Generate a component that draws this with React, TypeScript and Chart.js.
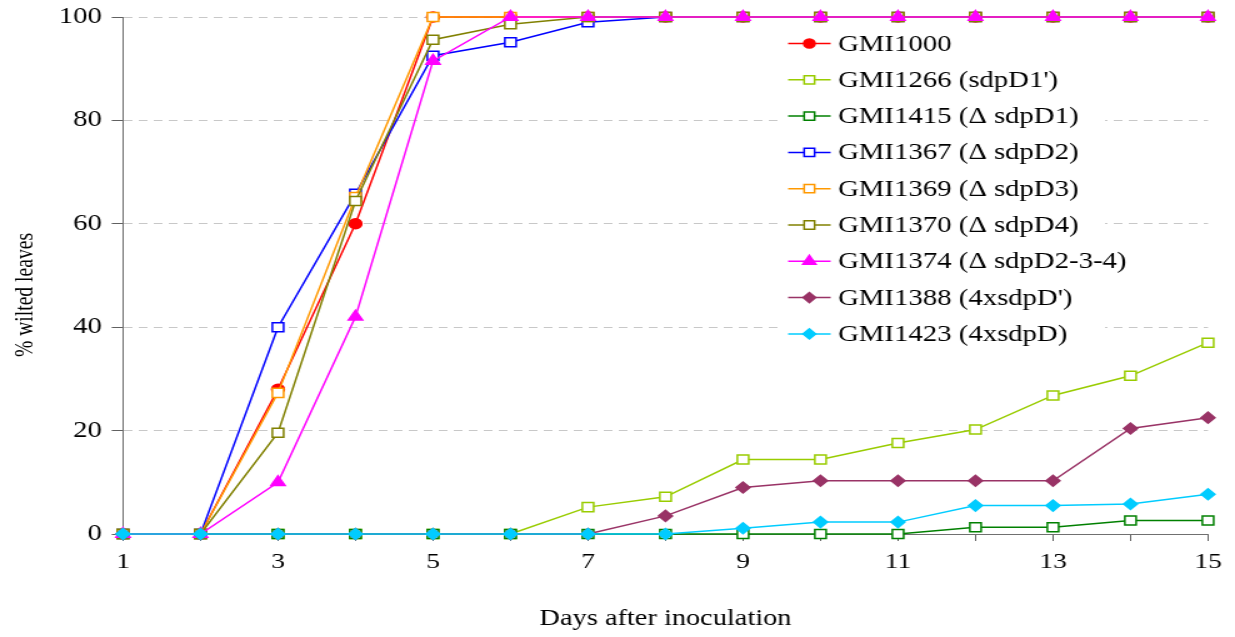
import React, { useEffect, useRef } from "react";
import { Chart, registerables } from "chart.js";

Chart.register(...registerables);

const days = [1, 2, 3, 4, 5, 6, 7, 8, 9, 10, 11, 12, 13, 14, 15];

const gmi1000 = [0, 0, 28, 60, 100, 100, 100, 100, 100, 100, 100, 100, 100, 100, 100];
const gmi1266 = [0, 0, 0, 0, 0, 0, 5.2, 7.2, 14.4, 14.4, 17.6, 20.2, 26.8, 30.6, 37.0];
const gmi1415 = [0, 0, 0, 0, 0, 0, 0, 0, 0, 0, 0, 1.3, 1.3, 2.6, 2.6];
const gmi1367 = [0, 0, 40, 65.8, 92.5, 95.1, 99, 100, 100, 100, 100, 100, 100, 100, 100];
const gmi1369 = [0, 0, 27.3, 65.2, 100, 100, 100, 100, 100, 100, 100, 100, 100, 100, 100];
const gmi1370 = [0, 0, 19.6, 64.4, 95.6, 98.6, 100, 100, 100, 100, 100, 100, 100, 100, 100];
const gmi1374 = [0, 0, 10, 42, 91.5, 100, 100, 100, 100, 100, 100, 100, 100, 100, 100];
const gmi1388 = [0, 0, 0, 0, 0, 0, 0, 3.5, 9, 10.3, 10.3, 10.3, 10.3, 20.4, 22.5];
const gmi1423 = [0, 0, 0, 0, 0, 0, 0, 0, 1.1, 2.3, 2.3, 5.5, 5.5, 5.8, 7.7];

const seriesLabels = [
  "GMI1000",
  "GMI1266 (sdpD1')",
  "GMI1415 (\u0394 sdpD1)",
  "GMI1367 (\u0394 sdpD2)",
  "GMI1369 (\u0394 sdpD3)",
  "GMI1370 (\u0394 sdpD4)",
  "GMI1374 (\u0394 sdpD2-3-4)",
  "GMI1388 (4xsdpD')",
  "GMI1423 (4xsdpD)",
];
const seriesValues = [gmi1000, gmi1266, gmi1415, gmi1367, gmi1369, gmi1370, gmi1374, gmi1388, gmi1423];
const seriesColors = ["#ff0000", "#99cc00", "#008000", "#0000ff", "#ff9900", "#808000", "#ff00ff", "#993366", "#00ccff"];
const seriesMarkers = ["circle", "rect", "rect", "rect", "rect", "rect", "triangle", "rectRot", "rectRot"];
const seriesFilled = [true, false, false, false, false, false, true, true, true];

const yTicks = [0, 20, 40, 60, 80, 100];
const xLabelDays = [1, 3, 5, 7, 9, 11, 13, 15];
const xTitle = "Days after inoculation";
const yTitle = "% wilted leaves";

const W = 1235;
const H = 637;
const STRETCH = 1.25;
const IW = Math.round(W / STRETCH);
const FONT = "'Liberation Serif', 'Times New Roman', serif";

function markerRadius(style: string) {
  if (style === "circle") return 5;
  if (style === "triangle") return 6.5;
  if (style === "rectRot") return 5.5;
  return 6.4;
}

function drawMarker(ctx: CanvasRenderingContext2D, style: string, x: number, y: number, r: number, color: string, filled: boolean) {
  ctx.beginPath();
  if (style === "circle") {
    ctx.arc(x, y, r, 0, Math.PI * 2);
  } else if (style === "rect") {
    const s = Math.SQRT1_2 * r;
    ctx.rect(x - s, y - s, 2 * s, 2 * s);
  } else if (style === "triangle") {
    ctx.moveTo(x, y - r);
    ctx.lineTo(x + r * Math.sin(Math.PI / 3), y + r / 2);
    ctx.lineTo(x - r * Math.sin(Math.PI / 3), y + r / 2);
    ctx.closePath();
  } else {
    ctx.moveTo(x - r, y);
    ctx.lineTo(x, y - r);
    ctx.lineTo(x + r, y);
    ctx.lineTo(x, y + r);
    ctx.closePath();
  }
  ctx.fillStyle = filled ? color : "#ffffff";
  ctx.fill();
  ctx.lineWidth = 1.5;
  ctx.strokeStyle = color;
  ctx.stroke();
}

const legendPlugin = {
  id: "boxLegend",
  afterDraw(chart: any) {
    const ctx: CanvasRenderingContext2D = chart.ctx;
    ctx.save();
    ctx.fillStyle = "#ffffff";
    ctx.fillRect(626, 27, 258, 325);
    seriesLabels.forEach((label, i) => {
      const y = 43.5 + i * 36.3;
      ctx.beginPath();
      ctx.moveTo(630.5, y);
      ctx.lineTo(664.5, y);
      ctx.lineWidth = 1.5;
      ctx.strokeStyle = seriesColors[i];
      ctx.stroke();
      drawMarker(ctx, seriesMarkers[i], 647.5, y, markerRadius(seriesMarkers[i]) - 0.5, seriesColors[i], seriesFilled[i]);
      ctx.fillStyle = "#000000";
      ctx.font = `23px ${FONT}`;
      ctx.textAlign = "left";
      ctx.textBaseline = "middle";
      ctx.fillText(label, 670.5, y + 1);
    });

    // vertical axis title
    ctx.save();
    ctx.translate(20, 295);
    ctx.rotate(-Math.PI / 2);
    ctx.font = `21px ${FONT}`;
    const w = ctx.measureText(yTitle).width;
    ctx.scale(124 / w, 1);
    ctx.fillStyle = "#000000";
    ctx.textAlign = "center";
    ctx.textBaseline = "middle";
    ctx.fillText(yTitle, 0, 0);
    ctx.restore();

    ctx.restore();
  },
};

export default function App() {
  const canvasRef = useRef<HTMLCanvasElement | null>(null);

  useEffect(() => {
    const canvas = canvasRef.current;
    if (!canvas) return;
    const datasets = seriesLabels.map((label, i) => ({
      label,
      data: days.map((d, j) => ({ x: d, y: seriesValues[i][j] })),
      borderColor: seriesColors[i],
      backgroundColor: seriesFilled[i] ? seriesColors[i] : "#ffffff",
      pointBackgroundColor: seriesFilled[i] ? seriesColors[i] : "#ffffff",
      pointBorderColor: seriesColors[i],
      pointStyle: seriesMarkers[i],
      pointRadius: markerRadius(seriesMarkers[i]),
      pointBorderWidth: 1.5,
      borderWidth: 1.5,
      tension: 0,
      fill: false,
      clip: false as any,
      order: seriesLabels.length - 1 - i,
    }));

    const chart = new Chart(canvas, {
      type: "line",
      data: { datasets },
      options: {
        responsive: false,
        animation: false,
        devicePixelRatio: 1,
        events: [],
        layout: { padding: { left: 0, right: IW - 966.4, top: 17, bottom: 0 } },
        plugins: {
          legend: { display: false },
          tooltip: { enabled: false },
        },
        scales: {
          x: {
            type: "linear",
            min: 1,
            max: 15,
            afterFit: (scale: any) => {
              scale.height = H - 534;
              scale.paddingLeft = 0;
              scale.paddingRight = 0;
            },
            ticks: {
              stepSize: 1,
              autoSkip: false,
              maxRotation: 0,
              padding: 8,
              color: "#000000",
              font: { family: FONT, size: 22 },
              callback: (v: any) => (xLabelDays.includes(Number(v)) ? String(v) : ""),
            },
            grid: {
              drawOnChartArea: false,
              drawTicks: true,
              tickLength: 7,
              tickColor: "#606060",
            },
            border: { display: true, color: "#707070", width: 1 },
            title: {
              display: true,
              text: xTitle,
              color: "#000000",
              font: { family: FONT, size: 22.7 },
              padding: { top: 0, bottom: 4 },
            },
          },
          y: {
            min: 0,
            max: 100,
            afterFit: (scale: any) => {
              scale.width = 98.4;
              scale.paddingTop = 0;
              scale.paddingBottom = 0;
            },
            afterBuildTicks: (scale: any) => {
              scale.ticks = yTicks.map((v) => ({ value: v }));
            },
            ticks: {
              padding: 8,
              color: "#000000",
              font: { family: FONT, size: 23 },
            },
            grid: {
              color: "#c8c8c8",
              lineWidth: 1,
              tickLength: 9,
              tickColor: "#606060",
            },
            border: { display: true, color: "#707070", width: 1, dash: [7, 5] },
            title: { display: false },
          },
        },
      },
      plugins: [legendPlugin],
    } as any);

    return () => chart.destroy();
  }, []);

  return (
    <div style={{ position: "fixed", left: 0, top: 0, width: W, height: H, background: "#ffffff" }}>
      <canvas
        ref={canvasRef}
        width={IW}
        height={H}
        style={{ display: "block", width: `${W}px`, height: `${H}px` }}
      />
    </div>
  );
}
